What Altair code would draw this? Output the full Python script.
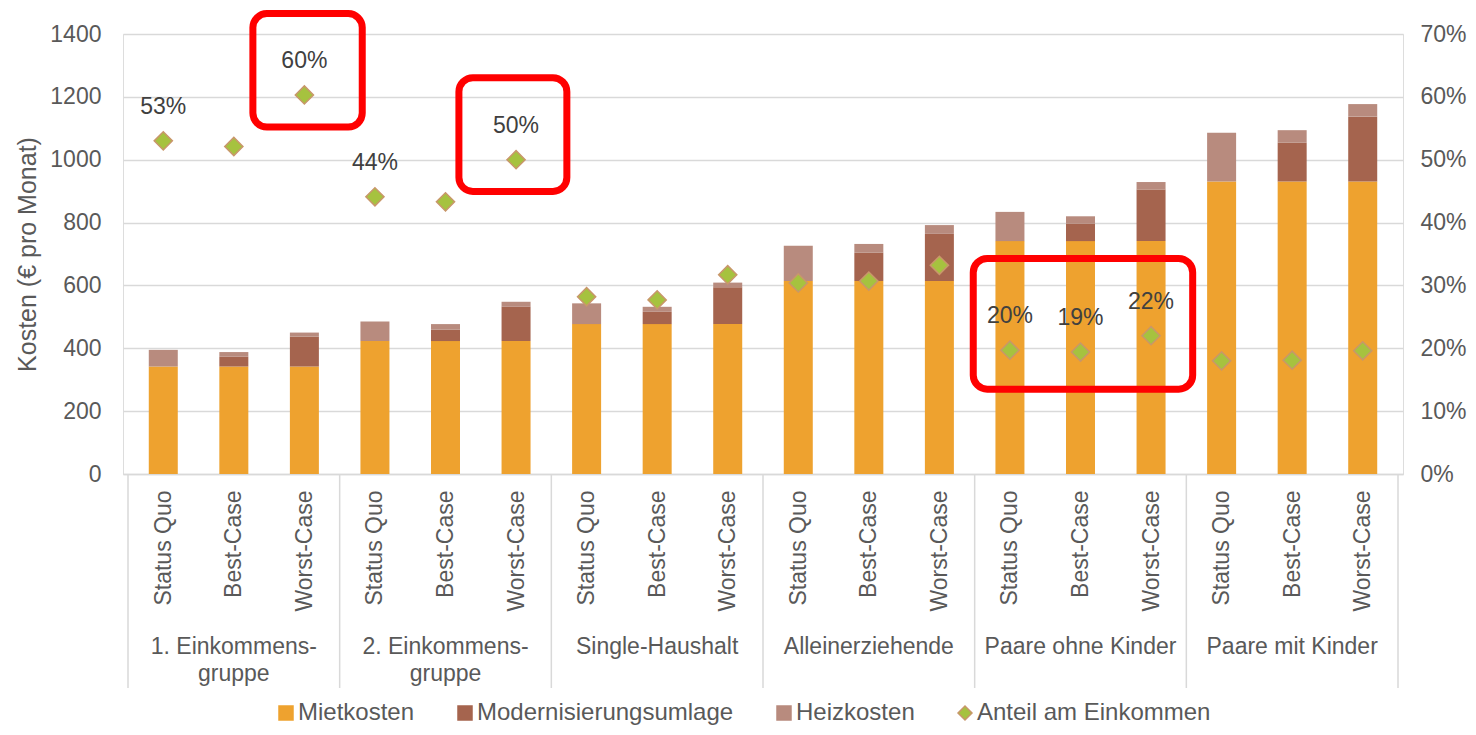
import json
import altair as alt
import pandas as pd

# ---------------- data ----------------
GROUPS = ["1. Einkommens-\ngruppe", "2. Einkommens-\ngruppe", "Single-Haushalt",
          "Alleinerziehende", "Paare ohne Kinder", "Paare mit Kinder"]
SUBCATS = ["Status Quo", "Best-Case", "Worst-Case"]
SERIES = ["Mietkosten", "Modernisierungsumlage", "Heizkosten", "Anteil am Einkommen"]

MIETE = [342, 342, 342, 423, 423, 423, 477, 477, 477, 614, 614, 614, 741, 741, 741, 931, 931, 931]
MODERN = [0, 31, 95, 0, 36, 109, 0, 39, 117, 0, 90, 150, 0, 55, 164, 0, 123, 206]
HEIZ = [53, 15, 13, 62, 18, 16, 66, 16, 15, 112, 28, 28, 93, 24, 24, 155, 40, 40]
ANTEIL = [53.0, 52.1, 60.3, 44.1, 43.3, 50.0, 28.2, 27.7, 31.7,
          30.4, 30.7, 33.2, 19.7, 19.4, 22.0, 18.0, 18.1, 19.6]
LABELED = [0, 2, 3, 5, 12, 13, 14]

# highlight boxes (x in bar-index units, y in € units)
BOX_X1 = [1.27, 4.19, 11.48]
BOX_X2 = [2.82, 5.72, 14.59]
BOX_Y1 = [1465, 1261, 686]
BOX_Y2 = [1104, 899, 270]

# ---------------- styles ----------------
FONT = "Liberation Sans"
GRAY = "#595959"
GRID = "#D9D9D9"
COLORS = ["#EEA22F", "#A5644E", "#B88B7E", "#A6C23F"]
STROKES = ["#EEA22F", "#A5644E", "#B88B7E", "#C8976A"]
SHAPES = ["square", "square", "square", "diamond"]

n = len(MIETE)
rows = []
for i in range(n):
    for o, (s, vals) in enumerate(zip(SERIES[:3], [MIETE, MODERN, HEIZ])):
        rows.append({"idx": i, "series": s, "value": vals[i], "ord": o})
bar_df = pd.DataFrame(rows)

pt_df = pd.DataFrame({"idx": list(range(n)), "pct": ANTEIL, "series": SERIES[3]})
lab_df = pd.DataFrame({"idx": LABELED,
                       "pct": [ANTEIL[i] for i in LABELED],
                       "label": [f"{round(ANTEIL[i])}%" for i in LABELED]})
sep_df = pd.DataFrame({"x": [g * 3 - 0.5 for g in range(len(GROUPS) + 1)]})
grp_df = pd.DataFrame({"gx": [g * 3 + 1 for g in range(len(GROUPS))], "label": GROUPS})
box_df = pd.DataFrame({"x1": BOX_X1, "x2": BOX_X2, "y1": BOX_Y1, "y2": BOX_Y2})

legend = alt.Legend(title=None, orient="none", legendX=151, legendY=667,
                    direction="horizontal", labelFontSize=24, labelColor=GRAY,
                    labelFont=FONT, symbolSize=196, labelOffset=0, columnPadding=38,
                    padding=0, symbolStrokeWidth=1.5, labelLimit=400)

color_scale = alt.Scale(domain=SERIES, range=COLORS)
shape_scale = alt.Scale(domain=SERIES, range=SHAPES)
stroke_scale = alt.Scale(domain=SERIES, range=STROKES)

xscale = alt.Scale(domain=[-0.5, n - 0.5], nice=False, zero=False)
label_expr = json.dumps(SUBCATS) + "[datum.value % 3]"

x_enc = alt.X("idx:Q", scale=xscale,
              axis=alt.Axis(values=list(range(n)), labelExpr=label_expr, labelAngle=270,
                            title=None, grid=False, ticks=False, tickSize=0,
                            labelPadding=16, labelFontSize=23, labelColor=GRAY,
                            labelFont=FONT, domainColor=GRID, domainWidth=1.5,
                            labelOverlap=False, labelFlush=False))

bars = alt.Chart(bar_df).mark_bar(size=29).encode(
    x=x_enc,
    y=alt.Y("value:Q", stack="zero",
            scale=alt.Scale(domain=[0, 1400], nice=False),
            axis=alt.Axis(values=list(range(0, 1401, 200)), format="d",
                          title="Kosten (€ pro Monat)",
                          titleFontSize=25, titleColor=GRAY, titleFont=FONT,
                          titleFontWeight="normal", titleX=-96, titleY=220,
                          titleAngle=270, titleBaseline="middle", titleAlign="center",
                          labelFontSize=23, labelColor=GRAY, labelFont=FONT,
                          labelPadding=22, ticks=False, tickSize=0, domain=False,
                          grid=True, gridColor=GRID, gridWidth=1.3)),
    color=alt.Color("series:N", scale=color_scale, legend=legend),
    order=alt.Order("ord:Q"),
)

seps = alt.Chart(sep_df).mark_rule(color=GRID, strokeWidth=1.5).encode(
    x=alt.X("x:Q", scale=xscale),
    y=alt.value(440), y2=alt.value(654),
)

glabels = alt.Chart(grp_df).mark_text(fontSize=23, color=GRAY, font=FONT,
                                      baseline="top", align="center",
                                      lineBreak="\n", lineHeight=27).encode(
    x=alt.X("gx:Q", scale=xscale),
    y=alt.value(602),
    text="label:N",
)

boxes = alt.Chart(box_df).mark_rect(fillOpacity=0, stroke="#FF0000", strokeWidth=7,
                                    cornerRadius=14).encode(
    x=alt.X("x1:Q", scale=xscale), x2="x2:Q",
    y="y1:Q", y2="y2:Q",
)

points = alt.Chart(pt_df).mark_point(filled=True, size=330, strokeWidth=1.5,
                                     opacity=1).encode(
    x=alt.X("idx:Q", scale=xscale),
    y=alt.Y("pct:Q", scale=alt.Scale(domain=[0, 70], nice=False),
            axis=alt.Axis(orient="right", values=list(range(0, 71, 10)),
                          labelExpr="datum.value + '%'", title=None,
                          labelFontSize=23, labelColor=GRAY, labelFont=FONT,
                          labelPadding=17, ticks=False, tickSize=0, domain=False,
                          grid=False)),
    color=alt.Color("series:N", scale=color_scale, legend=legend),
    shape=alt.Shape("series:N", scale=shape_scale, legend=legend),
    stroke=alt.Stroke("series:N", scale=stroke_scale, legend=legend),
)

texts = alt.Chart(lab_df).mark_text(fontSize=23, color="#404040", font=FONT,
                                    baseline="middle", align="center", dy=-34).encode(
    x=alt.X("idx:Q", scale=xscale),
    y=alt.Y("pct:Q"),
    text="label:N",
)

left = alt.layer(bars, seps, glabels, boxes)
right = alt.layer(points, texts)

chart = alt.layer(left, right).resolve_scale(y="independent").properties(
    width=1280, height=440,
    autosize=alt.AutoSizeParams(type="none"),
    padding={"left": 115, "top": 26, "right": 65, "bottom": 253},
).configure_view(stroke=None).configure(font=FONT)

chart.save("out.html", embed_options={"renderer": "svg", "actions": False})
